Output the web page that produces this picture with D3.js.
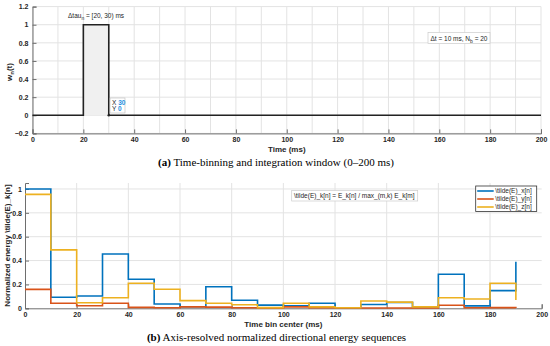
<!DOCTYPE html>
<html>
<head>
<meta charset="utf-8">
<script src="https://cdn.jsdelivr.net/npm/d3@7"></script>
<style>
  body { margin: 0; background: #fff; }
  svg { display: block; }
  .tick-lbl { font: bold 7px "Liberation Sans", Arial, sans-serif; fill: #262626; }
  .ax-title { font: bold 8px "Liberation Sans", Arial, sans-serif; fill: #262626; }
  .note { font: 6.5px "Liberation Sans", Arial, sans-serif; fill: #262626; }
  .caption { font: 11px "Liberation Serif", "Times New Roman", serif; fill: #000; }
</style>
</head>
<body>
<div id="viz"></div>
<script>
// window plot (a)
var winT = [0, 20, 30, 200],
    winW = [0, 1, 0, 0],
    topXTicks = [0, 20, 40, 60, 80, 100, 120, 140, 160, 180, 200],
    topYTicks = [-0.2, 0, 0.2, 0.4, 0.6, 0.8, 1, 1.2];

// energy sequences (b), bins at 0:10:190
var binT = [0, 10, 20, 30, 40, 50, 60, 70, 80, 90, 100, 110, 120, 130, 140, 150, 160, 170, 180, 190],
    eX = [1.0, 0.092, 0.103, 0.455, 0.243, 0.036, 0.013, 0.18, 0.068, 0.027, 0.022, 0.042, 0.005, 0.032, 0.048, 0.012, 0.285, 0.02, 0.148, 0.39],
    eY = [0.159, 0.042, 0.022, 0.042, 0.008, 0.005, 0.012, 0.01, 0.005, 0.003, 0.012, 0.004, 0.003, 0.003, 0.003, 0.003, 0.025, 0.004, 0.006, 0.002],
    eZ = [0.955, 0.49, 0.047, 0.089, 0.21, 0.16, 0.064, 0.042, 0.03, 0.006, 0.042, 0.012, 0.004, 0.061, 0.052, 0.012, 0.089, 0.078, 0.21, 0.07],
    seriesNames = ['\\tilde(E)_x[n]', '\\tilde(E)_y[n]', '\\tilde(E)_z[n]'],
    seriesColors = ['#0072BD', '#D95319', '#EDB120'],
    botXTicks = [0, 20, 40, 60, 80, 100, 120, 140, 160, 180, 200],
    botYTicks = [0, 0.2, 0.4, 0.6, 0.8, 1];

var svg = d3.select('#viz').append('svg')
        .attr('width', 550)
        .attr('height', 346),

    gridColor = '#e3e3e3',
    axisColor = '#6e6e6e';

// ---------- panel (a) ----------
var xA = d3.scaleLinear().domain([0, 200]).range([32.5, 541]),
    yA = d3.scaleLinear().domain([-0.2, 1.2]).range([133.4, 6.6]),
    gA = svg.append('g');

gA.append('g').selectAll('line')
    .data(d3.range(0, 201, 10))
    .enter().append('line')
        .attr('x1', d => xA(d)).attr('x2', d => xA(d))
        .attr('y1', yA(1.2)).attr('y2', yA(-0.2))
        .attr('stroke', gridColor).attr('stroke-width', 1);

gA.append('g').selectAll('line')
    .data(topYTicks)
    .enter().append('line')
        .attr('x1', xA(0)).attr('x2', xA(200))
        .attr('y1', d => yA(d)).attr('y2', d => yA(d))
        .attr('stroke', gridColor).attr('stroke-width', 1);

// shaded integration window
gA.append('rect')
    .attr('x', xA(winT[1])).attr('width', xA(winT[2]) - xA(winT[1]))
    .attr('y', yA(1)).attr('height', yA(0) - yA(1))
    .attr('fill', '#f0f0f0');

var axA = d3.axisBottom(xA).tickValues(topXTicks).tickSize(-4).tickPadding(4).tickFormat(d3.format('d'));
gA.append('g').attr('transform', 'translate(0,' + yA(-0.2) + ')').call(axA);
var ayA = d3.axisLeft(yA).tickValues(topYTicks).tickSize(-4).tickPadding(4)
    .tickFormat(d => d === 0 ? '0' : d3.format('~g')(d).replace('-', '\u2212'));
gA.append('g').attr('transform', 'translate(' + xA(0) + ',0)').call(ayA);

gA.append('path')
    .datum(winT.map((t, i) => [t, winW[i]]))
    .attr('d', d3.line().x(d => xA(d[0])).y(d => yA(d[1])).curve(d3.curveStepAfter))
    .attr('fill', 'none').attr('stroke', '#222').attr('stroke-width', 1.6);

// annotation above window
var tauTxt = gA.append('text').attr('class', 'note').attr('x', 68).attr('y', 18);
tauTxt.append('tspan').text('\u0394tau');
tauTxt.append('tspan').attr('dy', 2).attr('font-size', 5).text('n');
tauTxt.append('tspan').attr('dy', -2).text(' = [20, 30) ms');

// data tip at (30, 0)
gA.append('rect').attr('x', 110).attr('y', 98).attr('width', 15).attr('height', 15)
    .attr('fill', '#fff').attr('stroke', '#bbb').attr('stroke-width', 0.6);
gA.append('circle').attr('cx', xA(30)).attr('cy', yA(0)).attr('r', 1.3).attr('fill', '#222');
[['X ', '30', 104.5], ['Y ', '0', 111]].forEach(function (r) {
    var t = gA.append('text').attr('class', 'note').attr('x', 112).attr('y', r[2]).attr('font-size', 5.5);
    t.append('tspan').text(r[0]);
    t.append('tspan').attr('fill', '#1f8fe0').attr('font-weight', 'bold').text(r[1]);
});

// bin info box
gA.append('rect').attr('x', 428).attr('y', 32.5).attr('width', 62).attr('height', 11)
    .attr('fill', '#fff').attr('stroke', '#ccc').attr('stroke-width', 0.7);
var binTxt = gA.append('text').attr('class', 'note').attr('x', 430.5).attr('y', 40.5);
binTxt.append('tspan').text('\u0394t = 10 ms, N');
binTxt.append('tspan').attr('dy', 2).attr('font-size', 5).text('b');
binTxt.append('tspan').attr('dy', -2).text(' = 20');

gA.append('text').attr('class', 'ax-title').attr('x', xA(100)).attr('y', 152).attr('text-anchor', 'middle').text('Time (ms)');
var wLbl = gA.append('text').attr('class', 'ax-title')
    .attr('transform', 'translate(12,72) rotate(-90)').attr('text-anchor', 'middle');
wLbl.append('tspan').text('w');
wLbl.append('tspan').attr('dy', 2).attr('font-size', 6).text('n');
wLbl.append('tspan').attr('dy', -2).text('(t)');

var capA = svg.append('text').attr('class', 'caption').attr('x', 276).attr('y', 166).attr('text-anchor', 'middle');
capA.append('tspan').attr('font-weight', 'bold').text('(a)');
capA.append('tspan').text(' Time-binning and integration window (0\u2013200 ms)');

// ---------- panel (b) ----------
var xB = d3.scaleLinear().domain([0, 200]).range([25, 541.7]),
    yB = d3.scaleLinear().domain([0, 1.05]).range([308.3, 183]),
    gB = svg.append('g');

gB.append('g').selectAll('line')
    .data(d3.range(20, 181, 20))
    .enter().append('line')
        .attr('x1', d => xB(d)).attr('x2', d => xB(d))
        .attr('y1', yB(1.05)).attr('y2', yB(0))
        .attr('stroke', gridColor).attr('stroke-width', 1);

gB.append('g').selectAll('line')
    .data(botYTicks.slice(1))
    .enter().append('line')
        .attr('x1', xB(0)).attr('x2', xB(200))
        .attr('y1', d => yB(d)).attr('y2', d => yB(d))
        .attr('stroke', gridColor).attr('stroke-width', 1);

var axB = d3.axisBottom(xB).tickValues(botXTicks).tickSize(-4).tickPadding(4).tickFormat(d3.format('d'));
gB.append('g').attr('transform', 'translate(0,' + yB(0) + ')').call(axB);
var ayB = d3.axisLeft(yB).tickValues(botYTicks).tickSize(-4).tickPadding(3).tickFormat(d3.format('~g'));
gB.append('g').attr('transform', 'translate(' + xB(0) + ',0)').call(ayB);

var stairs = d3.line().x(d => xB(d[0])).y(d => yB(d[1])).curve(d3.curveStepAfter);
[eX, eY, eZ].forEach(function (vals, k) {
    gB.append('path')
        .datum(binT.map((t, i) => [t, vals[i]]))
        .attr('d', stairs)
        .attr('fill', 'none')
        .attr('stroke', seriesColors[k])
        .attr('stroke-width', 1.6);
});

// formula box
gB.append('rect').attr('x', 291.7).attr('y', 190.5).attr('width', 126).attr('height', 10.5)
    .attr('fill', '#fff').attr('stroke', '#ccc').attr('stroke-width', 0.7);
gB.append('text').attr('class', 'note').attr('x', 294).attr('y', 198)
    .text('\\tilde(E)_k[n] = E_k[n] / max_(m,k) E_k[m]');

// legend
var lg = gB.append('g').attr('transform', 'translate(475.7,186)');
lg.append('rect').attr('width', 61).attr('height', 25.5)
    .attr('fill', '#fff').attr('stroke', '#333').attr('stroke-width', 0.8);
seriesNames.forEach(function (name, k) {
    var yy = 5 + k * 8;
    lg.append('line').attr('x1', 1.5).attr('x2', 18).attr('y1', yy).attr('y2', yy)
        .attr('stroke', seriesColors[k]).attr('stroke-width', 1.6);
    lg.append('text').attr('class', 'note').attr('font-weight', 'bold')
        .attr('x', 19.5).attr('y', yy + 2.2).text(name);
});

gB.append('text').attr('class', 'ax-title').attr('x', xB(100)).attr('y', 327).attr('text-anchor', 'middle').text('Time bin center (ms)');
gB.append('text').attr('class', 'ax-title').attr('font-size', '7.3px')
    .attr('transform', 'translate(10,245.5) rotate(-90)').attr('text-anchor', 'middle')
    .text('Normalized energy  \\tilde(E)_k[n]');

var capB = svg.append('text').attr('class', 'caption').attr('x', 276.5).attr('y', 341).attr('text-anchor', 'middle');
capB.append('tspan').attr('font-weight', 'bold').text('(b)');
capB.append('tspan').text(' Axis-resolved normalized directional energy sequences');

// axis styling
svg.selectAll('.domain').attr('stroke', axisColor);
svg.selectAll('.tick line').attr('stroke', axisColor);
svg.selectAll('.tick text').attr('class', 'tick-lbl').attr('fill', '#262626');
</script>
</body>
</html>
